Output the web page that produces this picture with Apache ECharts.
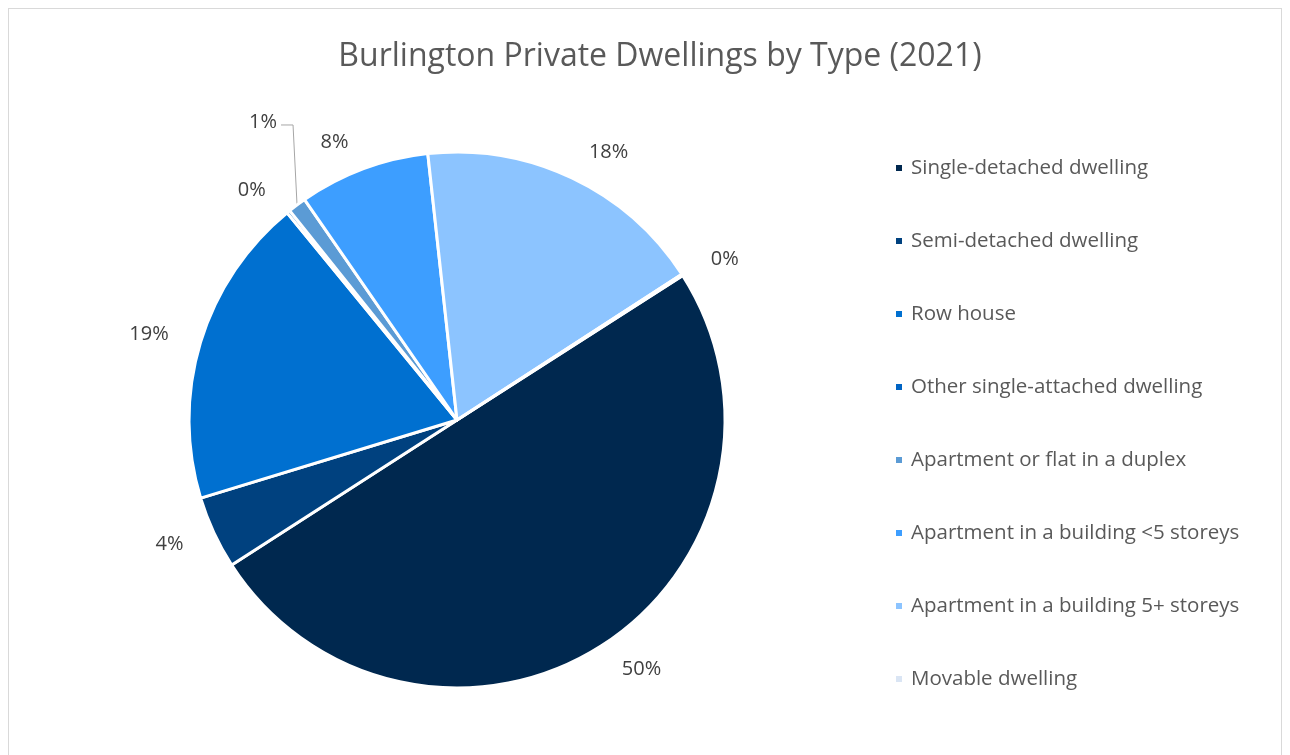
<!DOCTYPE html>
<html>
<head>
<meta charset="utf-8">
<script src="https://cdn.jsdelivr.net/npm/echarts@6/dist/echarts.min.js"></script>
<style>
html,body{margin:0;padding:0;background:#fff;}
#frame{position:absolute;left:8px;top:8px;width:1274px;height:760px;border:1px solid #d9d9d9;box-sizing:border-box;}
#chart{position:absolute;left:0;top:0;width:1290px;height:755px;}
</style>
</head>
<body>
<div id="frame"></div>
<div id="chart"></div>
<script>
const categories = [
  'Single-detached dwelling',
  'Semi-detached dwelling',
  'Row house',
  'Other single-attached dwelling',
  'Apartment or flat in a duplex',
  'Apartment in a building <5 storeys',
  'Apartment in a building 5+ storeys',
  'Movable dwelling'
];
const shares = [50.0, 4.4, 18.8, 0.2, 1.1, 7.9, 17.6, 0.1];
const colors = ['#00284f', '#00417f', '#0070d0', '#0064c4', '#5b9bd5', '#3d9eff', '#8cc4ff', '#dae5f4'];

const chart = echarts.init(document.getElementById('chart'), null, {renderer: 'canvas'});
const FONT = '"Open Sans", Lato, sans-serif';

chart.setOption({
  animation: false,
  title: {
    text: 'Burlington Private Dwellings by Type (2021)',
    left: 655, top: 36, textAlign: 'center',
    textStyle: {fontFamily: FONT, fontSize: 32, fontWeight: 'normal', color: '#595959'}
  },
  legend: {
    orient: 'vertical',
    left: 889, top: 151,
    itemWidth: 8, itemHeight: 8, itemGap: 49,
    icon: 'rect',
    data: categories,
    textStyle: {fontFamily: FONT, fontSize: 20.5, color: '#595959', lineHeight: 24, padding: [0, 0, 0, 3]}
  },
  series: [{
    type: 'pie',
    center: [457, 420],
    radius: 268,
    startAngle: 32.6,
    clockwise: true,
    avoidLabelOverlap: false,
    minAngle: 0,
    itemStyle: {borderColor: '#fff', borderWidth: 3},
    label: {
      show: true,
      position: 'outside',
      fontFamily: FONT, fontSize: 20, color: '#404040',
      formatter: p => Math.round(p.value) + '%'
    },
    labelLine: {show: false, length: 28, length2: 0},
    labelLayout: function (params) {
      if (params.dataIndex === 4 && params.labelLinePoints) {
        const p0 = params.labelLinePoints[0];
        return {
          x: p0[0] - 20, y: p0[1] - 83,
          align: 'right', verticalAlign: 'middle',
          labelLinePoints: [[p0[0], p0[1]], [p0[0] - 4, p0[1] - 80], [p0[0] - 16, p0[1] - 80]]
        };
      }
    },
    data: categories.map((c, i) => ({
      name: c,
      value: shares[i],
      itemStyle: {color: colors[i]},
      labelLine: i === 4 ? {show: true, length: 30, length2: 0, lineStyle: {color: '#a6a6a6', width: 1}} : undefined
    }))
  }]
});
</script>
</body>
</html>
